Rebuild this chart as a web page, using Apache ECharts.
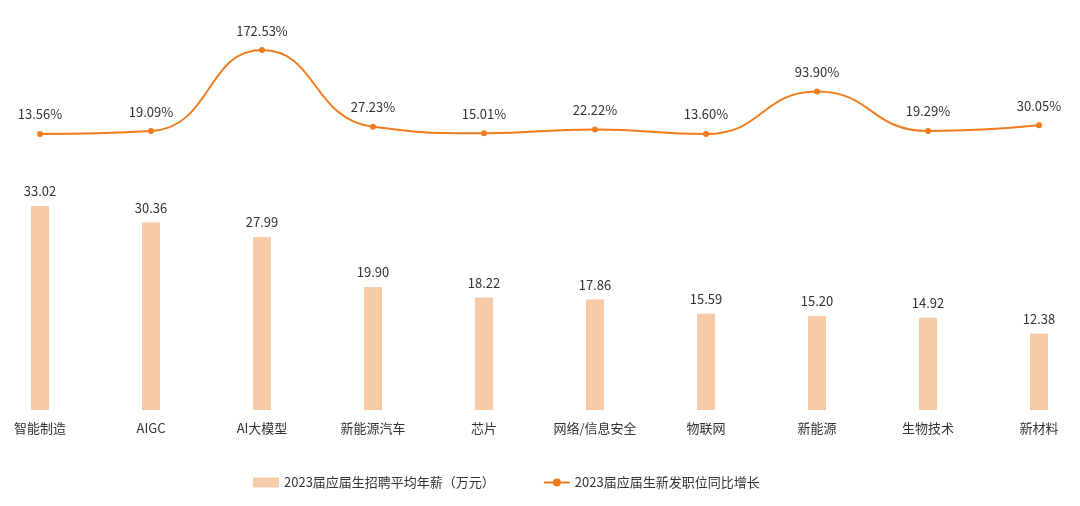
<!DOCTYPE html>
<html>
<head>
<meta charset="utf-8">
<script src="https://cdn.jsdelivr.net/npm/echarts@6/dist/echarts.min.js"></script>
<style>html,body{margin:0;background:#fff}#main{width:1080px;height:506px}</style>
</head>
<body>
<div id="main"></div>
<script>
var categories = ['智能制造', 'AIGC', 'AI大模型', '新能源汽车', '芯片', '网络/信息安全', '物联网', '新能源', '生物技术', '新材料'];
var salary = [33.02, 30.36, 27.99, 19.90, 18.22, 17.86, 15.59, 15.20, 14.92, 12.38];
var growth = [13.56, 19.09, 172.53, 27.23, 15.01, 22.22, 13.60, 93.90, 19.29, 30.05];

var myChart = echarts.init(document.getElementById('main'));

var font = '"Noto Sans CJK SC", "Noto Sans", sans-serif';

option = {
    textStyle: { fontFamily: font },
    legend: {
        bottom: 12,
        left: 248,
        itemGap: 48,
        itemWidth: 26,
        itemHeight: 10,
        textStyle: { fontSize: 13, color: '#333', fontFamily: font },
        data: [
            { name: '2023届应届生招聘平均年薪（万元）', icon: 'rect', itemStyle: { color: '#f8cba8' } },
            { name: '2023届应届生新发职位同比增长' }
        ]
    },
    grid: { left: 40, right: 41, top: 20, bottom: 96 },
    xAxis: {
        type: 'category',
        boundaryGap: false,
        data: categories,
        axisLine: { show: false },
        axisTick: { show: false },
        axisLabel: { color: '#333', fontSize: 13, margin: 12, fontFamily: font }
    },
    yAxis: [
        { type: 'value', min: 0, max: 63.1, show: false },
        { type: 'value', min: -509, max: 229.5, show: false }
    ],
    series: [{
        name: '2023届应届生招聘平均年薪（万元）',
        type: 'bar',
        barWidth: 18,
        yAxisIndex: 0,
        itemStyle: { color: '#f8cba8' },
        label: { show: true, position: 'top', distance: 8, color: '#333', fontSize: 13,
            formatter: function (p) { return p.value.toFixed(2); } },
        data: salary
    }, {
        name: '2023届应届生新发职位同比增长',
        type: 'line',
        yAxisIndex: 1,
        smooth: true,
        symbol: 'circle',
        symbolSize: 6,
        lineStyle: { color: '#f07c1e', width: 2 },
        itemStyle: { color: '#f07c1e' },
        label: { show: true, position: 'top', distance: 10, color: '#333', fontSize: 13,
            formatter: function (p) { return p.value.toFixed(2) + '%'; } },
        data: growth
    }]
};

myChart.setOption(option);
</script>
</body>
</html>
